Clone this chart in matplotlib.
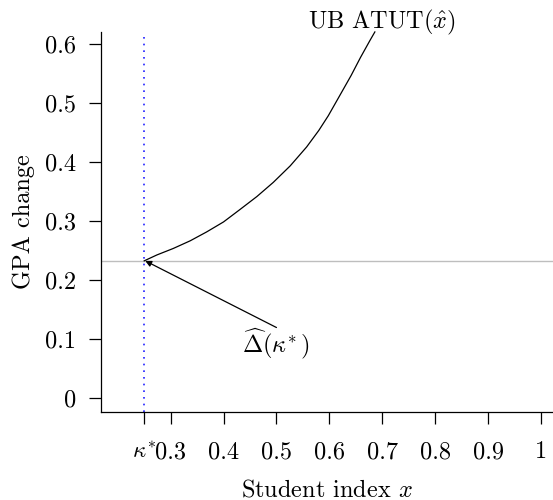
import matplotlib
matplotlib.use("Agg")
import matplotlib.pyplot as plt

plt.rcParams['font.family'] = 'serif'
plt.rcParams['font.serif'] = ['cmr10']
plt.rcParams['mathtext.fontset'] = 'cm'
plt.rcParams['axes.unicode_minus'] = False

# data
kappa = 0.25
delta = 0.233
ub_x = [0.250, 0.274, 0.305, 0.337, 0.368, 0.400, 0.431, 0.463, 0.494, 0.526,
        0.557, 0.580, 0.598, 0.617, 0.641, 0.659, 0.677, 0.686]
ub_y = [0.233, 0.243, 0.254, 0.267, 0.282, 0.299, 0.320, 0.342, 0.366, 0.394,
        0.426, 0.454, 0.479, 0.509, 0.547, 0.578, 0.607, 0.621]

xticks = [kappa, 0.3, 0.4, 0.5, 0.6, 0.7, 0.8, 0.9, 1.0]
xticklabels = [r'$\kappa^{\!*}$', '0.3', '0.4', '0.5', '0.6', '0.7', '0.8', '0.9', '1']
yticks = [0, 0.1, 0.2, 0.3, 0.4, 0.5, 0.6]
yticklabels = ['0', '0.1', '0.2', '0.3', '0.4', '0.5', '0.6']

fs = 17.5

fig = plt.figure(figsize=(5.53, 5.0), dpi=100)
ax = fig.add_axes([0.182, 0.1754, 0.818, 0.7612])

ax.axhline(delta, color='#bebebe', lw=1)
ax.axvline(kappa, color='#2020ff', lw=1.2, ls=(0, (1, 3)))
ax.plot(ub_x, ub_y, color='black', lw=0.9, clip_on=False)

ax.text(0.699, 0.627, r'UB ATUT$(\hat{x})$', fontsize=fs,
        ha='center', va='baseline', clip_on=False)
ax.annotate('', xy=(kappa + 0.002, delta), xytext=(0.5, 0.12),
            arrowprops=dict(arrowstyle='-|>', color='black', lw=0.9,
                            mutation_scale=9, shrinkA=0, shrinkB=0))
ax.text(0.5, 0.092, r'$\widehat{\Delta}(\kappa^{\!*})$', fontsize=fs, ha='center', va='center')

ax.set_xlim(0.1677, 1.0227)
ax.set_ylim(-0.0237, 0.6214)
ax.set_xticks(xticks)
ax.set_xticklabels(xticklabels)
ax.set_yticks(yticks)
ax.set_yticklabels(yticklabels)

ax.spines['top'].set_visible(False)
ax.spines['right'].set_visible(False)
for s in ['left', 'bottom']:
    ax.spines[s].set_linewidth(0.9)
ax.tick_params(axis='both', direction='out', length=8.6, width=0.9, labelsize=fs)
ax.tick_params(axis='x', pad=24.5)
ax.tick_params(axis='y', pad=9)
xlabs = ax.get_xticklabels()
for lab in xlabs:
    lab.set_va('baseline')
xlabs[0].set_fontsize(16.5)
xlabs[0].set_ha('center')

ax.set_xlabel(r'Student index $x$', fontsize=fs)
ax.set_ylabel('GPA change', fontsize=fs)
ax.xaxis.set_label_coords(0.5, -0.22, transform=ax.transAxes)
ax.yaxis.set_label_coords(-0.1695, 0.5, transform=ax.transAxes)
ax.xaxis.label.set_va('baseline')
ax.yaxis.label.set_va('center')

fig.savefig('out.png', dpi=100)
